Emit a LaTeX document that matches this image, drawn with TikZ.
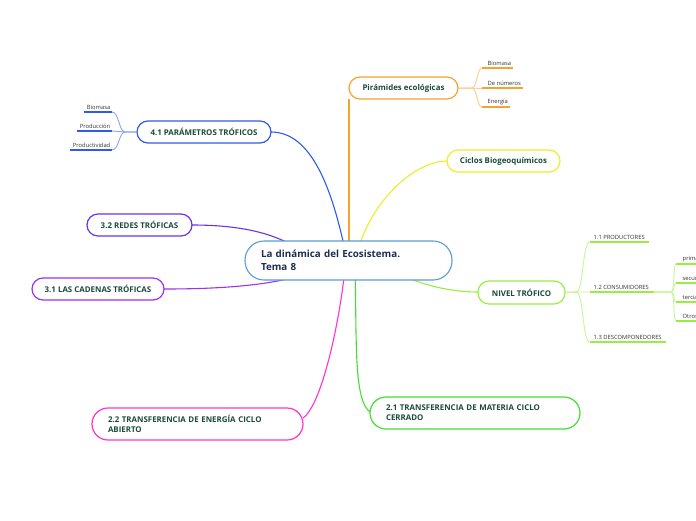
\documentclass[tikz,border=0pt]{standalone}
\usepackage{fontspec}
\setmainfont{Open Sans}
\definecolor{tgreen}{HTML}{1B4A3C}
\definecolor{navy}{HTML}{1F2D4D}
\definecolor{subgray}{HTML}{333333}
\definecolor{cblue}{HTML}{5B9BD5}
\definecolor{corange}{HTML}{F7A22A}
\definecolor{cyellow}{HTML}{EDED2A}
\definecolor{cbluep}{HTML}{2E5BE8}
\definecolor{cindigo}{HTML}{6633EE}
\definecolor{cpurple}{HTML}{A030F0}
\definecolor{cmagenta}{HTML}{FF33CC}
\definecolor{cgreen}{HTML}{44DD33}
\definecolor{clime}{HTML}{99EE44}
\begin{document}
\begin{tikzpicture}[x=1pt,y=-1pt,
  topic/.style={draw=#1, line width=1.2pt, fill=white, rounded corners=11pt,
    minimum height=22pt, inner sep=0pt, font=\fontsize{7.9}{10}\selectfont\bfseries, text=tgreen},
  topic2/.style={topic=#1, rounded corners=16pt, minimum height=32pt, align=left},
  conn/.style={draw=#1, line width=1.1pt},
  subconn/.style={draw=#1!55, line width=0.9pt},
  subitem/.style={inner xsep=1.5pt, inner ysep=1.8pt, font=\fontsize{5.8}{7}\selectfont, text=subgray},
  uline/.style={draw=#1, line width=1.8pt}
]
\clip (0,0) rectangle (696,520);
\fill[white] (0,0) rectangle (696,520);

% connectors from center
\coordinate (cc) at (348.5,260.5);
\draw[conn=corange] (349,99) -- (349,250);
\draw[conn=cyellow] (447,161) .. controls (415,161) and (372,200) .. (358,250);
\draw[conn=cbluep] (271,132) .. controls (312,132) and (332,190) .. (345,250);
\draw[conn=cindigo] (192,225) .. controls (240,225) and (275,233) .. (300,250);
\draw[conn=cpurple] (164,289) .. controls (225,289) and (285,285) .. (320,268);
\draw[conn=cmagenta] (303,418) .. controls (322,405) and (340,320) .. (345,268);
\draw[conn=cgreen] (355,268) .. controls (357,340) and (353,405) .. (372,413);
\draw[conn=clime] (390,270) .. controls (420,285) and (450,292) .. (478,292);

% center node
\node[draw=cblue, line width=1.1pt, fill=white, rounded corners=19pt,
  minimum width=207pt, minimum height=39pt, text width=175pt, align=left,
  inner sep=0pt, font=\fontsize{9.8}{12.8}\selectfont\bfseries, text=navy]
  (c) at (cc) {La dinámica del Ecosistema.\\Tema 8};

% main topics
\node[topic=corange, minimum width=109pt] (pir) at (403.5,88) {Pirámides ecológicas};
\node[topic=cyellow, minimum width=113pt] (cic) at (503.5,161) {Ciclos Biogeoquímicos};
\node[topic=cbluep, minimum width=134pt] (p41) at (204,132) {4.1 PARÁMETROS TRÓFICOS};
\node[topic=cindigo, minimum width=105pt] (r32) at (139.5,225) {3.2 REDES TRÓFICAS};
\node[topic=cpurple, minimum width=132pt] (c31) at (98,289) {3.1 LAS CADENAS TRÓFICAS};
\node[topic=clime, minimum width=87pt, minimum height=23pt] (nt) at (521.5,292.5) {NIVEL TRÓFICO};
\node[topic2=cmagenta, minimum width=211pt, text width=179pt] (t22) at (197.5,424)
  {2.2 TRANSFERENCIA DE ENERGÍA CICLO\\ABIERTO};
\node[topic2=cgreen, minimum width=210pt, text width=178pt] (t21) at (475,413)
  {2.1 TRANSFERENCIA DE MATERIA CICLO\\CERRADO};

% Pirámides subitems
\coordinate (pbc) at (482,68);
\coordinate (pnc) at (482,88);
\coordinate (pec) at (482,107);
\node[subitem, anchor=south west] (pb) at (486,68) {Biomasa};
\node[subitem, anchor=south west] (pn) at (486,88) {De números};
\node[subitem, anchor=south west] (pe) at (486,107) {Energía};
\foreach \n in {pb,pn,pe}{
  \draw[subconn=corange] (pir.east) -- (472,88) .. controls (477,88) and (477,0 |- \n.south west) .. (\n c);
  \draw[uline=corange] (\n c) -- (\n.south east);
}

% 4.1 subitems
\node[subitem, anchor=south east] (qb) at (112,112) {Biomasa};
\node[subitem, anchor=south east] (qp) at (112,131) {Producción};
\node[subitem, anchor=south east] (qd) at (112,150) {Productividad};
\foreach \n in {qb,qp,qd}{
  \draw[subconn=cbluep] (p41.west) -- (125,132) .. controls (119,132) and (119,0 |- \n.south east) .. (\n.south east);
  \draw[uline=cbluep] ([xshift=-1.5pt]\n.south west) -- (\n.south east);
}

% NIVEL TRÓFICO subitems
\coordinate (n1c) at (590,242);
\coordinate (n2c) at (590,292);
\coordinate (n3c) at (590,342);
\node[subitem, anchor=south west] (n1) at (592,242) {1.1 PRODUCTORES};
\node[subitem, anchor=south west] (n2) at (592,292) {1.2 CONSUMIDORES};
\node[subitem, anchor=south west] (n3) at (592,342) {1.3 DESCOMPONEDORES};
\foreach \n in {n1,n2,n3}{
  \draw[subconn=clime] (nt.east) -- (576,292) .. controls (584,292) and (582,0 |- \n.south west) .. (\n c);
  \draw[uline=clime] (\n c) -- ([xshift=3pt]\n.south east);
}

% consumidores subitems
\coordinate (s1c) at (676,264);
\coordinate (s2c) at (676,283);
\coordinate (s3c) at (676,302);
\coordinate (s4c) at (676,321);
\node[subitem, anchor=south west] (s1) at (681,264) {primarios};
\node[subitem, anchor=south west] (s2) at (681,283) {secundarios};
\node[subitem, anchor=south west] (s3) at (681,302) {terciarios};
\node[subitem, anchor=south west] (s4) at (681,321) {Otros};
\foreach \n in {s1,s2,s3,s4}{
  \draw[subconn=clime] ([xshift=3pt]n2.south east) -- (671,292) .. controls (675,292) and (673,0 |- \n.south west) .. (\n c);
  \draw[uline=clime] (\n c) -- (\n.south east);
}
\end{tikzpicture}
\end{document}
